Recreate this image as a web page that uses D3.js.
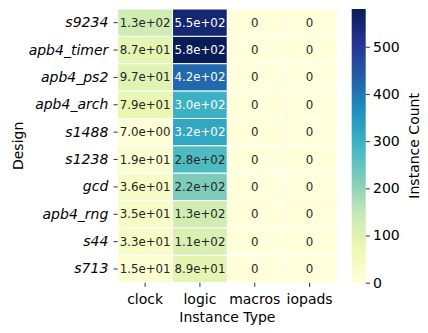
<!DOCTYPE html>
<html><head><meta charset="utf-8">
<script src="https://cdn.jsdelivr.net/npm/d3@7"></script>
<style>html,body{margin:0;padding:0;background:#fff;}svg{display:block;}</style>
</head><body>
<svg id="c" width="428" height="333"></svg>
<script>
const designs = ["s9234","apb4_timer","apb4_ps2","apb4_arch","s1488","s1238","gcd","apb4_rng","s44","s713"];
const types = ["clock","logic","macros","iopads"];
const clockVals = [130, 87, 97, 79, 7, 19, 36, 35, 33, 15];
const logicVals = [550, 580, 420, 300, 320, 275, 220, 130, 110, 89];
const macrosVals = [0,0,0,0,0,0,0,0,0,0];
const iopadsVals = [0,0,0,0,0,0,0,0,0,0];
const cbTicks = [0,100,200,300,400,500];
const vmax = 580;

const series = [clockVals, logicVals, macrosVals, iopadsVals];
const cells = [];
designs.forEach((d,i)=>types.forEach((t,j)=>cells.push({d,t,v:series[j][i]})));

const svg = d3.select("#c");
const font = "DejaVu Sans, sans-serif";
const L=117.7, R=337, T=9, B=282.7;
const x = d3.scaleBand().domain(types).range([L,R]);
const y = d3.scaleBand().domain(designs).range([T,B]);
const pal = ["#ffffd9","#edf8b1","#c7e9b4","#7fcdbb","#41b6c4","#1d91c0","#225ea8","#253494","#081d58"];
const color = d3.scaleLinear().domain(pal.map((_,i)=>i/(pal.length-1)*vmax)).range(pal).interpolate(d3.interpolateRgb).clamp(true);

function lum(c){
  const r=d3.rgb(c); const f=v=>{v/=255;return v<=0.03928?v/12.92:Math.pow((v+0.055)/1.055,2.4);};
  return 0.2126*f(r.r)+0.7152*f(r.g)+0.0722*f(r.b);
}
function fmt(v){
  if(v===0) return "0";
  let s=v.toExponential(1);
  return s.replace(/e([+-])(\d)$/, "e$10$2");
}

svg.append("g").selectAll("rect").data(cells).join("rect")
  .attr("x",d=>x(d.t)).attr("y",d=>y(d.d))
  .attr("width",x.bandwidth()).attr("height",y.bandwidth())
  .attr("fill",d=>color(d.v)).attr("stroke","#fff").attr("stroke-width",1);

svg.append("g").selectAll("text").data(cells).join("text")
  .attr("x",d=>x(d.t)+x.bandwidth()/2).attr("y",d=>y(d.d)+y.bandwidth()/2)
  .attr("text-anchor","middle").attr("dominant-baseline","central")
  .attr("font-family",font).attr("font-size",11.8)
  .attr("fill",d=>lum(color(d.v))>0.408?"#262626":"#fff")
  .text(d=>fmt(d.v));

const yAx = svg.append("g").attr("transform",`translate(${L},0)`)
  .call(d3.axisLeft(y).tickSize(4.2).tickPadding(5.2));
yAx.select(".domain").remove();
yAx.selectAll("text").attr("font-family",font).attr("font-size",14).attr("font-style","italic").attr("fill","#000");
yAx.selectAll("line").attr("stroke","#000").attr("stroke-width",0.8);

const xAx = svg.append("g").attr("transform",`translate(0,${B})`)
  .call(d3.axisBottom(x).tickSize(4.2).tickPadding(6.7));
xAx.select(".domain").remove();
xAx.selectAll("text").attr("font-family",font).attr("font-size",14).attr("fill","#000");
xAx.selectAll("line").attr("stroke","#000").attr("stroke-width",0.8);

svg.append("text").attr("x",(L+R)/2).attr("y",321.5).attr("text-anchor","middle")
  .attr("font-family",font).attr("font-size",14).text("Instance Type");
svg.append("text").attr("transform",`translate(22.5,${(T+B)/2}) rotate(-90)`).attr("text-anchor","middle")
  .attr("font-family",font).attr("font-size",14).text("Design");

const cbL=351.7, cbW=14, cbT=T, cbB=B;
const defs = svg.append("defs");
const grad = defs.append("linearGradient").attr("id","g").attr("x1",0).attr("y1",1).attr("x2",0).attr("y2",0);
pal.forEach((c,i)=>grad.append("stop").attr("offset",i/(pal.length-1)).attr("stop-color",c));
svg.append("rect").attr("x",cbL).attr("y",cbT).attr("width",cbW).attr("height",cbB-cbT).attr("fill","url(#g)");
const cy = d3.scaleLinear().domain([0,vmax]).range([cbB,cbT]);
const cbAx = svg.append("g").attr("transform",`translate(${cbL+cbW},0)`)
  .call(d3.axisRight(cy).tickValues(cbTicks).tickSize(4.2).tickPadding(3.1));
cbAx.select(".domain").remove();
cbAx.selectAll("text").attr("font-family",font).attr("font-size",14).attr("fill","#000");
cbAx.selectAll("line").attr("stroke","#000").attr("stroke-width",0.8);
svg.append("text").attr("transform",`translate(419,${(cbT+cbB)/2}) rotate(-90)`).attr("text-anchor","middle")
  .attr("font-family",font).attr("font-size",14).text("Instance Count");
</script>
</body></html>
